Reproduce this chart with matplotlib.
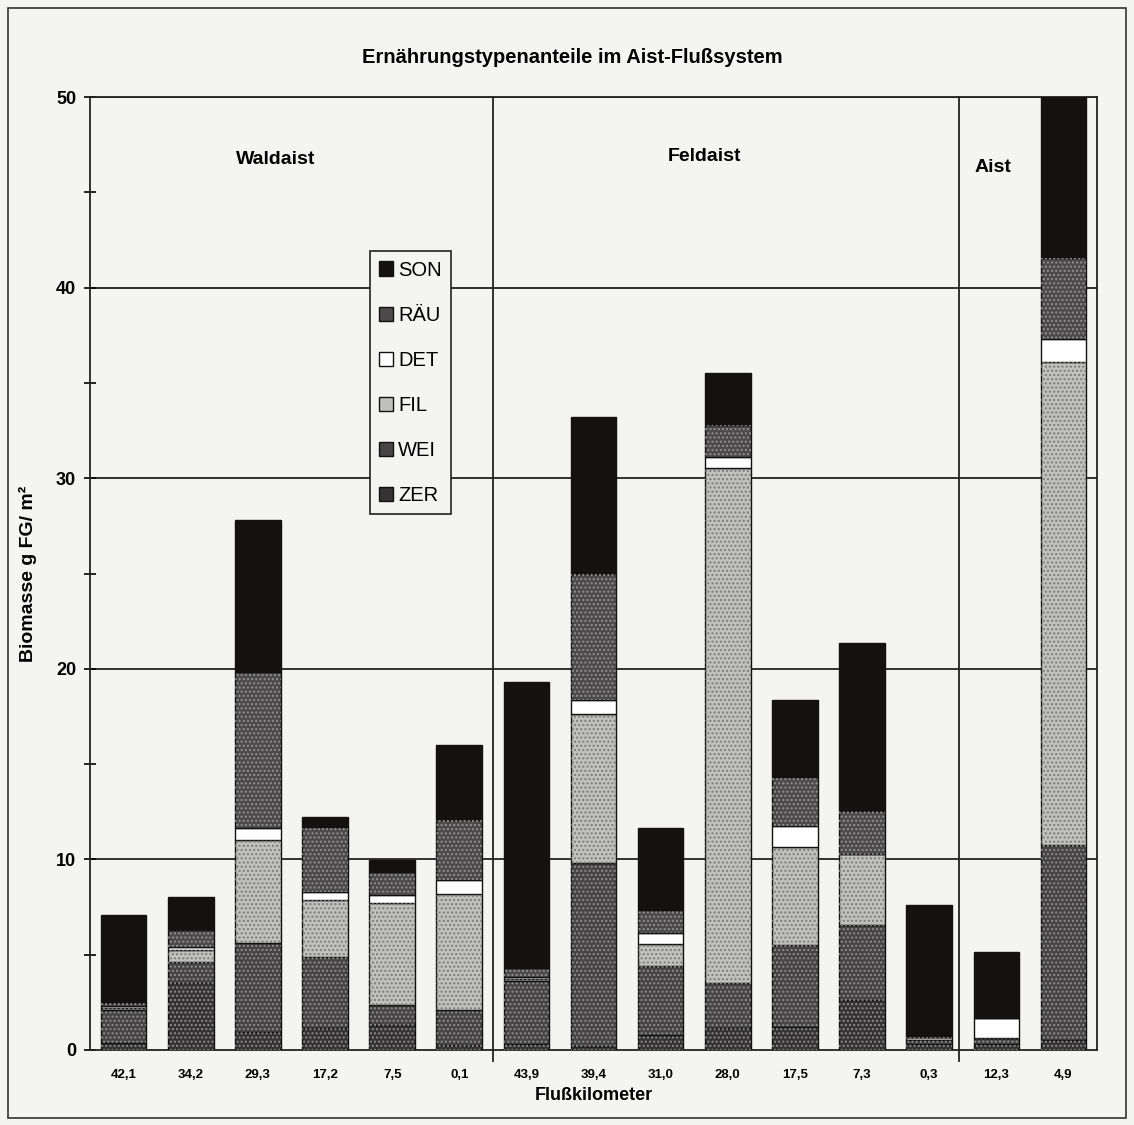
import matplotlib.pyplot as plt
import matplotlib.patches as mpatches
import numpy as np

plt.rcParams['font.family'] = ['Liberation Sans', 'DejaVu Sans']
plt.rcParams['font.weight'] = 'bold'

# Flusskilometer (x categories)
km_labels = ['42,1', '34,2', '29,3', '17,2', '7,5', '0,1',
             '43,9', '39,4', '31,0', '28,0', '17,5', '7,3', '0,3',
             '12,3', '4,9']

# Ernaehrungstypen, values in g FG/m2 (bottom to top)
zer = [0.35, 3.5, 0.96, 1.14, 1.31, 0.26, 0.3, 0.2, 0.8, 1.14, 1.22, 2.62, 0.3, 0.3, 0.5]
wei = [1.75, 1.13, 4.64, 3.76, 1.05, 1.84, 3.3, 9.63, 3.61, 2.39, 4.29, 3.94, 0.2, 0.33, 10.26]
fil = [0.1, 0.62, 5.4, 2.97, 5.34, 6.07, 0.1, 7.82, 1.15, 26.99, 5.12, 3.72, 0.2, 0.0, 25.35]
det = [0.1, 0.17, 0.63, 0.43, 0.43, 0.75, 0.15, 0.71, 0.56, 0.61, 1.12, 0.0, 0.0, 1.05, 1.18]
rau = [0.15, 0.88, 8.22, 3.42, 1.23, 3.15, 0.45, 6.64, 1.23, 1.66, 2.59, 2.28, 0.0, 0.0, 4.25]
son = [4.65, 1.75, 7.95, 0.48, 0.61, 3.93, 15.0, 8.23, 4.28, 2.75, 4.02, 8.81, 6.9, 3.48, 8.46]

series_names = ['ZER', 'WEI', 'FIL', 'DET', 'RÄU', 'SON']
series_vals = [zer, wei, fil, det, rau, son]
series_cols = ['#353333', '#464444', '#c0c0be', '#ffffff', '#4c4a4a', '#151111']
hatch_cols = ['#8c8c8c', '#8c8c8c', '#7c7c7c', None, '#909090', None]

groups = ['Waldaist', 'Feldaist', 'Aist']

fig = plt.figure(figsize=(11.34, 11.25), dpi=100, facecolor='#f4f4f2')
ax = fig.add_axes([0.0794, 0.0667, 0.888, 0.847])
ax.set_facecolor('#f4f4f2')

x = np.arange(len(km_labels))
bottom = np.zeros(len(km_labels))
handles = []
for name, vals, col, hcol in zip(series_names, series_vals, series_cols, hatch_cols):
    vals = np.array(vals)
    b = ax.bar(x, vals, 0.68, bottom=bottom, color=col, edgecolor='#111111',
               linewidth=1.0, zorder=3, label=name)
    if hcol:
        # halftone dot texture
        ax.bar(x, vals, 0.68, bottom=bottom, color='none', edgecolor=hcol,
               hatch='....', linewidth=0, zorder=3.5)
    handles.append(b)
    bottom += vals

ax.set_xlim(-0.5, 14.5)
ax.set_ylim(0, 50)
ax.set_yticks([0, 10, 20, 30, 40, 50])
ax.set_yticks([5, 15, 25, 35, 45], minor=True)
ax.tick_params(axis='y', which='both', direction='inout', length=8, width=1.2,
               labelsize=13, pad=6)
ax.set_xticks(x)
ax.set_xticklabels(km_labels, fontsize=9.5, fontweight='bold')
ax.tick_params(axis='x', length=0, pad=14)
for lab in ax.get_yticklabels():
    lab.set_fontweight('bold')

for y in [10, 20, 30, 40, 50]:
    ax.axhline(y, color='#222222', lw=1.3, zorder=1)
for sp in ax.spines.values():
    sp.set_linewidth(1.3)
    sp.set_color('#222222')

# group separators
for xs in [5.5, 12.45]:
    ax.plot([xs, xs], [-0.6, 50], color='#222222', lw=1.3, zorder=2, clip_on=False)

ax.text(2.26, 46.7, groups[0], ha='center', va='center', fontsize=14, fontweight='bold')
ax.text(8.65, 46.9, groups[1], ha='center', va='center', fontsize=14, fontweight='bold')
ax.text(12.95, 46.3, groups[2], ha='center', va='center', fontsize=14, fontweight='bold')

ax.set_ylabel('Biomasse g FG/ m²', fontsize=14, fontweight='bold', labelpad=14)
ax.set_xlabel('Flußkilometer', fontsize=13, fontweight='bold', labelpad=4)
fig.text(0.505, 0.949, 'Ernährungstypenanteile im Aist-Flußsystem',
         ha='center', va='center', fontsize=14.5, fontweight='bold')

leg = ax.legend(handles[::-1], series_names[::-1], loc='upper left',
                bbox_to_anchor=(0.278, 0.838), fontsize=14.5, frameon=True,
                fancybox=False, edgecolor='#222222', facecolor='#f4f4f2',
                framealpha=1, labelspacing=1.3, handlelength=0.7,
                handleheight=0.7, handletextpad=0.25, borderpad=0.45,
                borderaxespad=0)
leg.get_frame().set_linewidth(1.2)
for t in leg.get_texts():
    t.set_fontweight('normal')
leg.set_zorder(5)

# outer frame around the whole figure
fig.patches.append(mpatches.Rectangle((0.007, 0.006), 0.986, 0.987,
                                      transform=fig.transFigure, fill=False,
                                      edgecolor='#333333', lw=1.2))

fig.savefig('out.png', dpi=100, facecolor=fig.get_facecolor())
